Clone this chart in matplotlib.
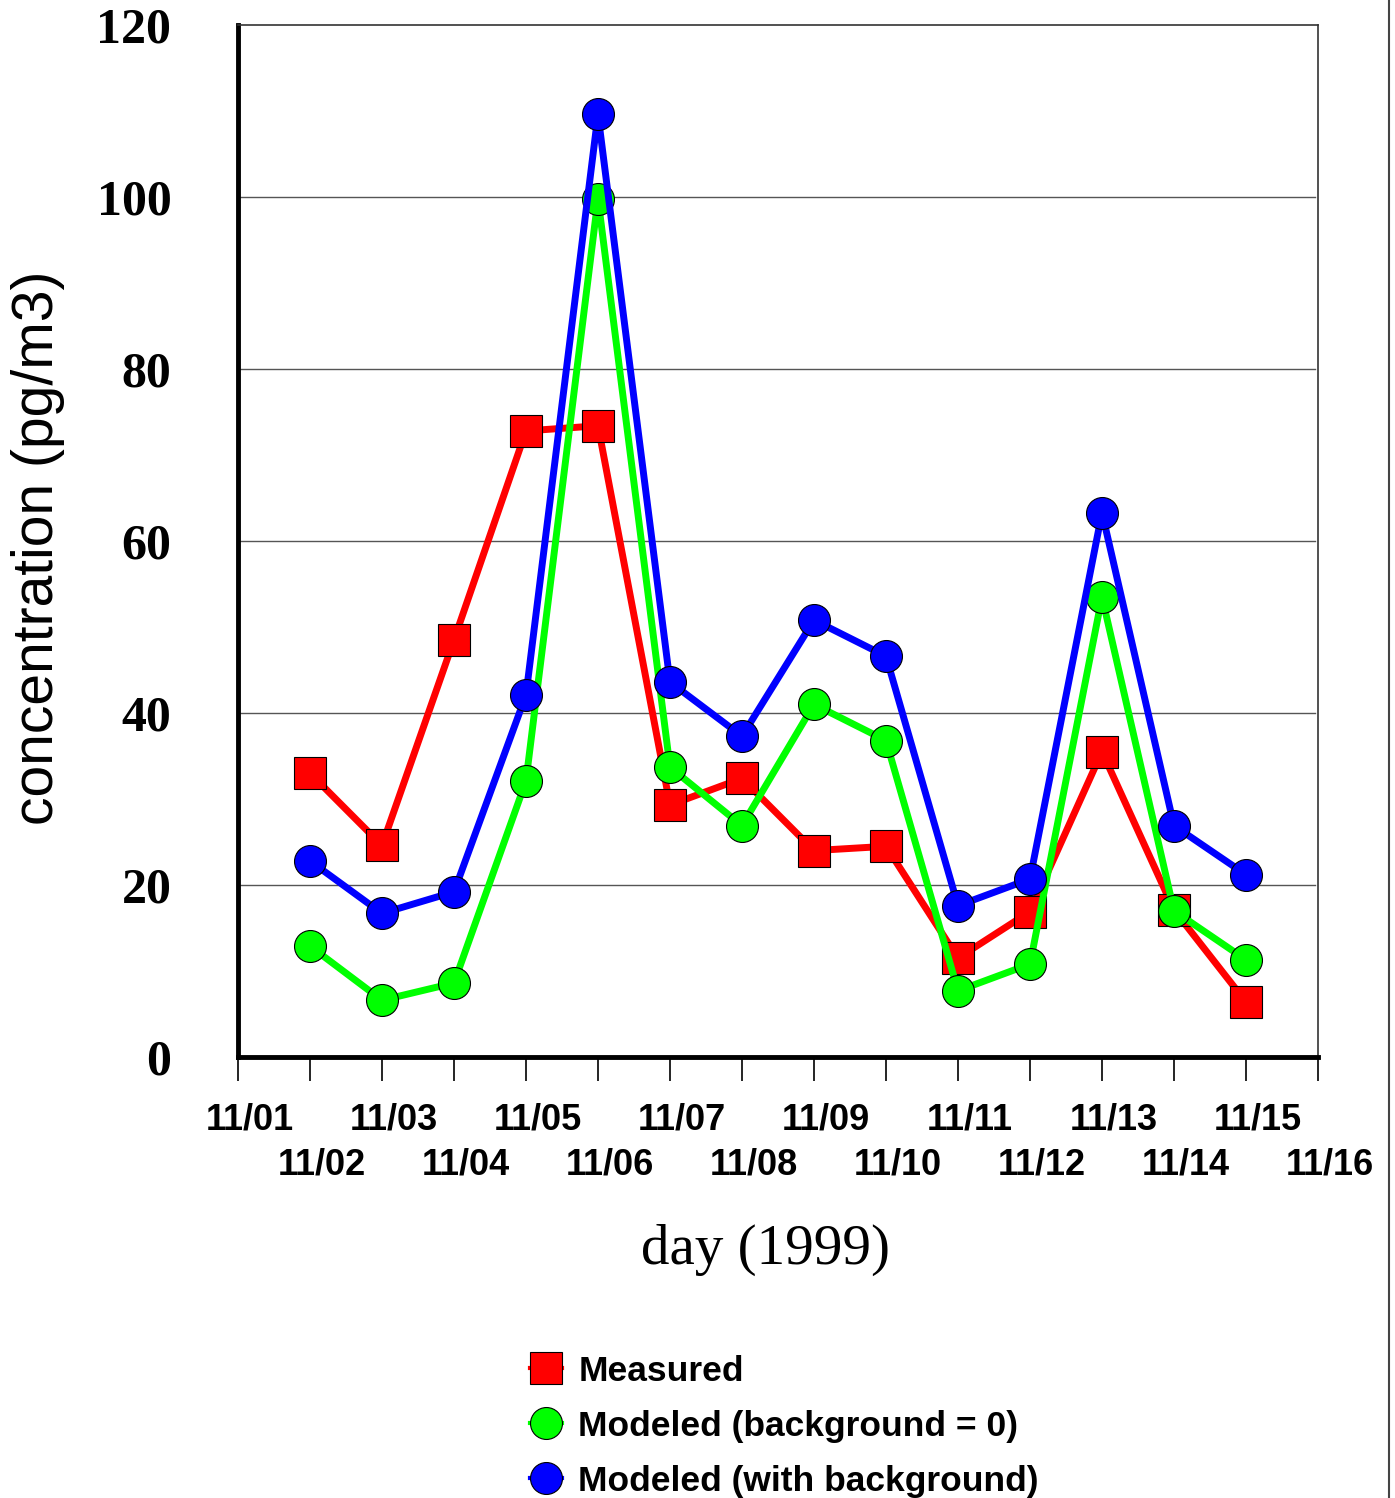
"""Measured vs modeled daily concentrations, November 1999."""
import matplotlib

matplotlib.use("Agg")
import matplotlib.pyplot as plt  # noqa: E402
import matplotlib.transforms as mtransforms  # noqa: E402
from matplotlib.lines import Line2D  # noqa: E402

# Day index 0 = 11/01 ... 15 = 11/16; samples on 11/02..11/15.
DAY_LABELS = ["11/01", "11/02", "11/03", "11/04", "11/05", "11/06", "11/07", "11/08",
              "11/09", "11/10", "11/11", "11/12", "11/13", "11/14", "11/15", "11/16"]
DAYS = [1, 2, 3, 4, 5, 6, 7, 8, 9, 10, 11, 12, 13, 14]

MEASURED = [33.0, 24.6, 48.5, 72.8, 73.4, 29.3, 32.4, 24.0, 24.5, 11.5, 16.9, 35.5, 17.1, 6.4]
MODELED_BG0 = [12.9, 6.6, 8.6, 32.1, 99.8, 33.7, 26.9, 41.0, 36.8, 7.7, 10.8, 53.5, 17.0, 11.3]
MODELED_BG = [22.8, 16.7, 19.2, 42.1, 109.6, 43.6, 37.3, 50.8, 46.6, 17.6, 20.7, 63.3, 26.9, 21.2]

Y_TICKS = [0, 20, 40, 60, 80, 100, 120]

fig = plt.figure(figsize=(13.95, 14.98), dpi=100)
ax = fig.add_axes([0.1706, 0.2944, 0.7742, 0.6889])

ax.plot(DAYS, MEASURED, color="#ff0000", lw=5, marker="s", ms=23,
        mfc="#ff0000", mec="black", mew=0.8, label="Measured", zorder=3)
ax.plot(DAYS, MODELED_BG0, color="#00ff00", lw=5, marker="o", ms=23,
        mfc="#00ff00", mec="black", mew=0.8, label="Modeled (background = 0)", zorder=4)
ax.plot(DAYS, MODELED_BG, color="#0000ff", lw=5, marker="o", ms=23,
        mfc="#0000ff", mec="black", mew=0.8, label="Modeled (with background)", zorder=5)

ax.set_xlim(0, 15)
ax.set_ylim(0, 120)

# y axis: bold serif numbers, no tick marks, grey grid
ax.set_yticks(Y_TICKS)
ax.set_yticklabels([str(v) for v in Y_TICKS], fontfamily="Liberation Serif",
                   fontweight="bold", fontsize=36)
ax.tick_params(axis="y", length=0, pad=48)
for v in Y_TICKS[1:-1]:
    ax.axhline(v, xmin=0, xmax=0.997, color="#555555", lw=1.0, zorder=1)

# x axis: two staggered rows of labels (major = upper row, minor = lower row),
# each shifted a little right of its tick
xfont = dict(fontfamily="Liberation Sans", fontweight="bold", fontsize=26)
idx = list(range(len(DAY_LABELS)))
ax.set_xticks(idx[0::2])
ax.set_xticklabels(DAY_LABELS[0::2], **xfont)
ax.set_xticks(idx[1::2], minor=True)
ax.set_xticklabels(DAY_LABELS[1::2], minor=True, **xfont)
ax.tick_params(axis="x", which="major", direction="out", length=17, width=1.2, pad=16)
ax.tick_params(axis="x", which="minor", direction="out", length=17, width=1.2, pad=48)
shift = mtransforms.ScaledTranslation(12 / 100, 0, fig.dpi_scale_trans)
for lab in ax.get_xticklabels() + ax.get_xticklabels(minor=True):
    lab.set_transform(lab.get_transform() + shift)

for side in ("left", "bottom"):
    ax.spines[side].set_linewidth(3.5)
for side in ("top", "right"):
    ax.spines[side].set_linewidth(1.2)
    ax.spines[side].set_color("#333333")

ax.set_ylabel("concentration (pg/m3)", fontfamily="Liberation Sans", fontsize=41)
ax.yaxis.set_label_coords(-0.16, 0.493)
ax.set_xlabel("day (1999)", fontfamily="Liberation Serif", fontsize=41)
ax.xaxis.set_label_coords(0.488, -0.162)

leg = fig.legend(loc="upper left", bbox_to_anchor=(0.37, 0.105), frameon=False,
                 prop={"family": "Liberation Sans", "weight": "bold", "size": 25.5},
                 handlelength=0.9, handletextpad=0.45, labelspacing=0.62,
                 borderaxespad=0)
for h in leg.legend_handles:
    h.set_linewidth(3)

# thin frame line at the right edge of the page
fig.add_artist(Line2D([1389 / 1395, 1389 / 1395], [0, 1], transform=fig.transFigure,
                      color="#444444", lw=1.5))

fig.savefig("out.png", dpi=100)
